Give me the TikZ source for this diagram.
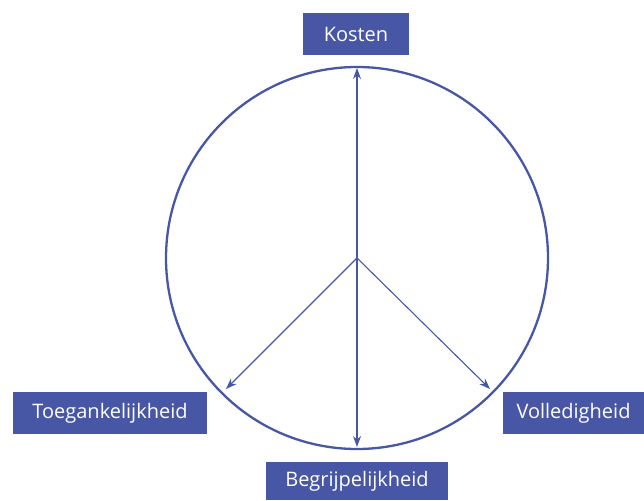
\documentclass[tikz,border=0pt]{standalone}
\usepackage{fontspec}
\setmainfont{Open Sans}
\usetikzlibrary{arrows.meta}
\definecolor{navy}{RGB}{72,86,166}
\begin{document}
\begin{tikzpicture}[x=1pt,y=-1pt,
  lbl/.style={fill=navy,text=white,font=\fontsize{20}{22}\selectfont,inner sep=0pt,anchor=center},
  arr/.style={draw=navy,line width=1.1pt,-{Stealth[length=11pt,width=8pt]}}]
\useasboundingbox (0,0) rectangle (644,500);
\coordinate (c) at (357,258);
\draw[navy,line width=2.3pt] (c) circle[radius=191];
\node[lbl,minimum width=106,minimum height=42] (kosten) at (356,34) {Kosten};
\node[lbl,minimum width=194,minimum height=42] (toeg) at (110,413) {Toegankelijkheid};
\node[lbl,minimum width=141,minimum height=42] (voll) at (573.5,413) {Volledigheid};
\node[lbl,minimum width=182,minimum height=38] (begr) at (357,481) {Begrijpelijkheid};
\coordinate (ttop) at (357,68);
\coordinate (tbot) at (357,447);
\coordinate (tleft) at (226,389);
\coordinate (tright) at (490,389);
\draw[arr] (c) -- (ttop);
\draw[arr] (c) -- (tbot);
\draw[arr] (c) -- (tleft);
\draw[arr] (c) -- (tright);
\end{tikzpicture}
\end{document}
